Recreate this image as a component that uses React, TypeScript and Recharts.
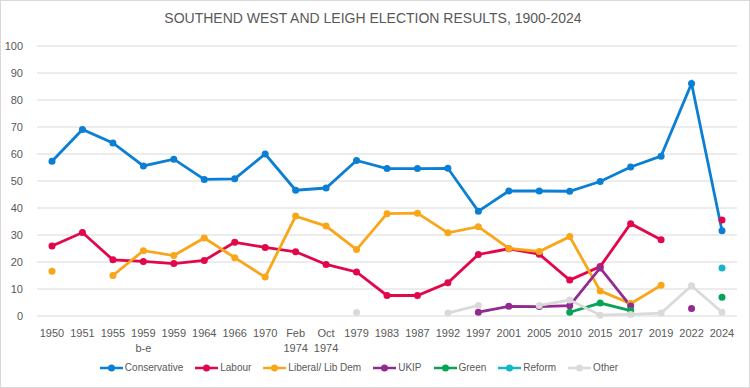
import { LineChart, Line, XAxis, YAxis, CartesianGrid, Legend } from 'recharts'

// Categories and vote shares (%)
const YEARS = [
  '1950', '1951', '1955', '1959\nb-e', '1959', '1964', '1966', '1970', 'Feb\n1974', 'Oct\n1974',
  '1979', '1983', '1987', '1992', '1997', '2001', '2005', '2010', '2015', '2017', '2019', '2022', '2024',
]

type V = number | null

const conservative: V[] = [57.3, 69.1, 64.1, 55.6, 58.1, 50.6, 50.8, 60.0, 46.6, 47.4, 57.6, 54.6, 54.6, 54.7, 38.8, 46.3, 46.3, 46.2, 49.8, 55.2, 59.2, 86.1, 31.6]
const labour: V[] = [25.9, 30.9, 20.8, 20.2, 19.4, 20.6, 27.3, 25.4, 23.8, 19.1, 16.3, 7.6, 7.6, 12.3, 22.8, 24.9, 22.9, 13.3, 18.3, 34.2, 28.2, null, 35.6]
const libDem: V[] = [16.6, null, 15.0, 24.2, 22.4, 28.9, 21.6, 14.4, 37.0, 33.3, 24.6, 37.9, 38.1, 30.8, 33.1, 25.0, 23.9, 29.4, 9.3, 4.6, 11.4, null, null]
const ukip: V[] = [null, null, null, null, null, null, null, null, null, null, null, null, null, null, 1.4, 3.6, 3.5, 3.8, 17.8, 3.7, null, 2.8, null]
const green: V[] = [null, null, null, null, null, null, null, null, null, null, null, null, null, null, null, null, null, 1.4, 4.8, 2.0, null, null, 6.9]
const reform: V[] = [null, null, null, null, null, null, null, null, null, null, null, null, null, null, null, null, null, null, null, null, null, null, 17.8]
const other: V[] = [null, null, null, null, null, null, null, null, null, null, 1.3, null, null, 1.1, 3.9, null, 3.9, 5.9, 0.3, 0.6, 1.1, 11.2, 1.4]

const SERIES = [
  { key: 'con', name: 'Conservative', color: '#0a7fd4', values: conservative },
  { key: 'lab', name: 'Labour', color: '#e2064b', values: labour },
  { key: 'lib', name: 'Liberal/ Lib  Dem', color: '#f9a61b', values: libDem },
  { key: 'ukip', name: 'UKIP', color: '#922b8f', values: ukip },
  { key: 'green', name: 'Green', color: '#07a356', values: green },
  { key: 'reform', name: 'Reform', color: '#17b5cc', values: reform },
  { key: 'other', name: 'Other', color: '#dadada', values: other },
]

const data = YEARS.map((year, i) => {
  const row: Record<string, string | V> = { year }
  SERIES.forEach(s => {
    row[s.key] = s.values[i]
  })
  return row
})

const FONT = '"Liberation Sans Narrow", "Liberation Sans", sans-serif'
const TEXT = '#595959'

function YearTick({ x, y, payload }: any) {
  const lines = String(payload.value).split('\n')
  return (
    <text x={x} y={y} textAnchor="middle" fill={TEXT} fontSize={11} fontFamily={FONT}>
      {lines.map((l, i) => (
        <tspan key={i} x={x} dy={i === 0 ? 13 : 15}>
          {l}
        </tspan>
      ))}
    </text>
  )
}

function LegendBox() {
  return (
    <div style={{ display: 'flex', justifyContent: 'center', gap: 12, fontFamily: FONT, fontSize: 10, color: TEXT, marginLeft: -20 }}>
      {SERIES.map(s => (
        <div key={s.key} style={{ display: 'flex', alignItems: 'center', gap: 2 }}>
          <svg width={23} height={10}>
            <line x1={0} y1={5} x2={23} y2={5} stroke={s.color} strokeWidth={2.5} />
            <circle cx={11.5} cy={5} r={3.5} fill={s.color} />
          </svg>
          <span>{s.name}</span>
        </div>
      ))}
    </div>
  )
}

export default function App() {
  return (
    <div
      style={{
        position: 'fixed',
        left: 0,
        top: 0,
        width: 748,
        height: 386,
        border: '1px solid #d9d9d9',
        background: '#fff',
      }}
    >
      <div
        style={{
          position: 'absolute',
          top: 9,
          width: '100%',
          textAlign: 'center',
          fontFamily: FONT,
          fontSize: 14,
          color: TEXT,
          marginLeft: -2,
        }}
      >
        SOUTHEND WEST AND LEIGH ELECTION RESULTS, 1900-2024
      </div>
      <LineChart width={748} height={386} data={data} margin={{ top: 45, right: 12, bottom: 0, left: 0 }}>
        <CartesianGrid vertical={false} stroke="#d9d9d9" strokeWidth={1} />
        <XAxis
          dataKey="year"
          interval={0}
          tick={<YearTick />}
          tickLine={false}
          axisLine={false}
          height={46}
          padding={{ left: 15, right: 15 }}
        />
        <YAxis
          domain={[0, 100]}
          ticks={[0, 10, 20, 30, 40, 50, 60, 70, 80, 90, 100]}
          tick={{ fill: TEXT, fontSize: 11, fontFamily: FONT }}
          tickLine={false}
          axisLine={false}
          width={36}
          tickMargin={8}
        />
        <Legend verticalAlign="bottom" height={25} content={<LegendBox />} />
        {SERIES.map(s => (
          <Line
            key={s.key}
            dataKey={s.key}
            name={s.name}
            stroke={s.color}
            strokeWidth={2.8}
            dot={{ r: 3.5, fill: s.color, stroke: s.color, strokeWidth: 0 }}
            activeDot={false}
            connectNulls={false}
            isAnimationActive={false}
            type="linear"
          />
        ))}
      </LineChart>
    </div>
  )
}
